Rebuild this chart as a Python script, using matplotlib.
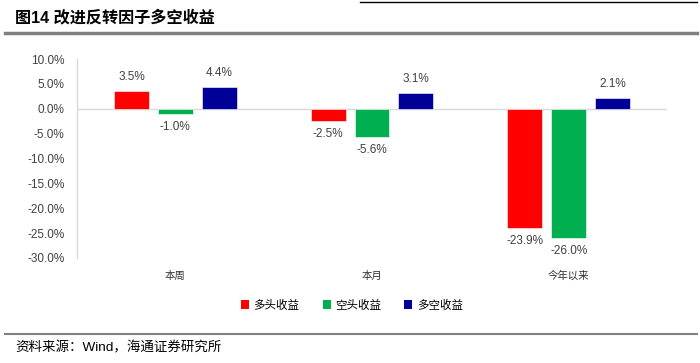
import matplotlib
matplotlib.use("Agg")
import matplotlib.pyplot as plt
import numpy as np
from matplotlib.lines import Line2D
from matplotlib.patches import Patch

plt.rcParams['font.family'] = ['Liberation Sans', 'Noto Sans CJK SC', 'DejaVu Sans']

categories = ['本周', '本月', '今年以来']
series_names = ['多头收益', '空头收益', '多空收益']
long_ret = [3.5, -2.5, -23.9]
short_ret = [-1.0, -5.6, -26.0]
ls_ret = [4.4, 3.1, 2.1]
yticks = [10, 5, 0, -5, -10, -15, -20, -25, -30]
colors = ['#FF0000', '#00B050', '#000099']

fig = plt.figure(figsize=(7.0, 3.63), dpi=100)
ax = fig.add_axes([77/700, 1-258/363, (667-77)/700, (258-59)/363])

x = np.arange(len(categories))
width = 0.177
step = 0.223
label_color = '#404040'
for i, (vals, c) in enumerate(zip([long_ret, short_ret, ls_ret], colors)):
    pos = x + (i - 1) * step
    ax.bar(pos, vals, width=width, color=c, edgecolor='white', linewidth=0.4, zorder=3)
    for p, v in zip(pos, vals):
        if v >= 0:
            ax.annotate(f"{v:.1f}%", (p, v), xytext=(0, 6), textcoords='offset points',
                        ha='center', va='bottom', fontsize=8.5, color=label_color,
                        family=['Liberation Sans'])
        else:
            ax.annotate(f"{v:.1f}%", (p, v), xytext=(0, -5), textcoords='offset points',
                        ha='center', va='top', fontsize=8.5, color=label_color,
                        family=['Liberation Sans'])

ax.axhline(0, color='#D9D9D9', linewidth=1.0, zorder=2)
ax.set_xlim(-0.5, 2.5)
ax.set_ylim(-30, 10)
ax.set_yticks(yticks)
ax.set_yticklabels([f"{v:.1f}%" for v in yticks], fontsize=8.5, color=label_color)
ax.set_xticks(x)
ax.set_xticklabels(categories, fontsize=7.5, color='#303030',
                   family=['Noto Sans CJK SC'])
ax.tick_params(axis='y', length=0, pad=9)
ax.tick_params(axis='x', length=0, pad=9)
for s in ['top', 'right', 'bottom']:
    ax.spines[s].set_visible(False)
ax.spines['left'].set_color('#D9D9D9')
ax.spines['left'].set_linewidth(1.0)

handles = [Patch(facecolor=c, edgecolor='none') for c in colors]
fig.legend(handles, series_names, loc='center', bbox_to_anchor=(352/700, 1-305/363),
           ncol=3, frameon=False, handlelength=0.7, handleheight=0.7,
           handletextpad=0.4, columnspacing=2.0,
           prop={'family': ['Noto Sans CJK SC'], 'size': 8.3})

# title and decorations
fig.text(15/700, 1-17/363, '图14 改进反转因子多空收益', fontsize=11.6, fontweight='bold',
         ha='left', va='center', color='#000000')
fig.add_artist(Line2D([5/700, 697/700], [1-33/363, 1-33/363], color='#808080',
                      linewidth=2.5, transform=fig.transFigure))
fig.add_artist(Line2D([360/700, 697/700], [1-2/363, 1-2/363], color='#000000',
                      linewidth=1.0, transform=fig.transFigure))
fig.add_artist(Line2D([5/700, 697/700], [1-334/363, 1-334/363], color='#808080',
                      linewidth=1.5, transform=fig.transFigure))
fig.text(15/700, 1-348/363, '资料来源：Wind，海通证券研究所', fontsize=9.7,
         ha='left', va='center', color='#000000')

fig.savefig('out.png', dpi=100)
